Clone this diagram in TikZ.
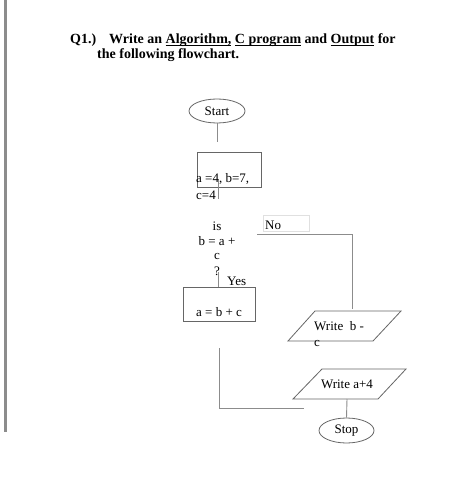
\documentclass[tikz,border=0pt]{standalone}
\usepackage{fontspec}
\setmainfont{Liberation Serif}
\usetikzlibrary{shapes.geometric}

\newcommand{\qunder}[1]{\setbox0\hbox{#1}\rlap{\rule[-1.6pt]{\wd0}{0.7pt}}\box0\relax}

\tikzset{
	conn/.style={draw=black!45, line width=0.9pt},
	outline/.style={draw=black!60, line width=0.8pt},
	txt/.style={inner sep=0pt, font=\fontsize{13}{15}\selectfont},
	qtxt/.style={inner sep=0pt, anchor=base west, font=\bfseries\fontsize{14}{16}\selectfont}
}

\begin{document}
\begin{tikzpicture}[x=1pt, y=-1pt]
			\useasboundingbox (0,0) rectangle (474,486);
			\fill[white] (0,0) rectangle (474,486);
			\fill[black!45] (3.5,0) rectangle (6.5,432);
			% question
			\node[qtxt] (qnum) at (70,44) {Q1.)};
			\node[qtxt] (qline1) at (109,44) {Write an \qunder{Algorithm,} \qunder{C program} and \qunder{Output} for};
			\node[qtxt] (qline2) at (97,59) {the following flowchart.};
			% start and values
			\node[outline, ellipse, minimum width=56, minimum height=24, inner sep=0pt, font=\fontsize{13}{15}\selectfont] (start) at (217,111) {Start};
			\coordinate (startend) at (217,142);
			\draw[conn] (start.south) -- (startend);
			\node[outline, rectangle, minimum width=64, minimum height=35, inner sep=0pt] (init) at (229,169.5) {};
			\node[txt, anchor=base west] (initA) at (196,182.5) {a =4, b=7,};
			\node[txt, anchor=base west] (initB) at (196,199.5) {c=4};
			\coordinate (inittop) at (218,180);
			\coordinate (initend) at (218,199);
			\draw[conn] (inittop) -- (initend);
			% question b = a + c
			\node[txt, anchor=base] (isA) at (217,230) {is};
			\node[txt, anchor=base] (isB) at (217,245) {b = a +};
			\node[txt, anchor=base] (isC) at (217,259) {c};
			\node[txt, anchor=base] (isD) at (217,275) {?};
			\node[outline, rectangle, minimum width=72, minimum height=34, inner sep=0pt] (calc) at (219,304) {};
			\node[txt, anchor=base] (calctxt) at (219,316) {a = b + c};
			\coordinate (yesstart) at (218,272);
			\draw[conn] (yesstart) -- (yesstart |- calc.north);
			\node[txt, anchor=base west] (yes) at (227,285) {Yes};
			% no branch
			\node[draw=black!12, line width=0.6pt, minimum width=46, minimum height=16, inner sep=0pt] (nobox) at (286,223) {};
			\node[txt, anchor=base west] (no) at (265,229.5) {No};
			\coordinate (nostart) at (257,234);
			\coordinate (nocorner) at (352,234);
			\coordinate (noend) at (352,309);
			\draw[conn] (nostart) -- (nocorner) -- (noend);
			% outputs
			\draw[outline] (288,341) -- (315,311) -- (401,311) -- (373,341) -- cycle;
			\node[txt, anchor=base west] (writeA) at (314,330) {Write\ \ b -};
			\node[txt, anchor=base west] (writeB) at (314,346) {c};
			\draw[outline] (293,399) -- (322,369) -- (406,369) -- (378,399) -- cycle;
			\node[txt, anchor=base] (writeC) at (347,388) {Write a+4};
			\node[outline, ellipse, minimum width=55, minimum height=25, inner sep=0pt, font=\fontsize{13}{15}\selectfont] (stop) at (346.5,430.5) {Stop};
			\coordinate (outend) at (347,399);
			\draw[conn] (outend) -- (stop.north);
			% loose line
			\coordinate (lefttop) at (219,348);
			\coordinate (leftcorner) at (219,408);
			\coordinate (leftend) at (304,408);
			\draw[conn] (lefttop) -- (leftcorner) -- (leftend);
		\end{tikzpicture}
\end{document}
